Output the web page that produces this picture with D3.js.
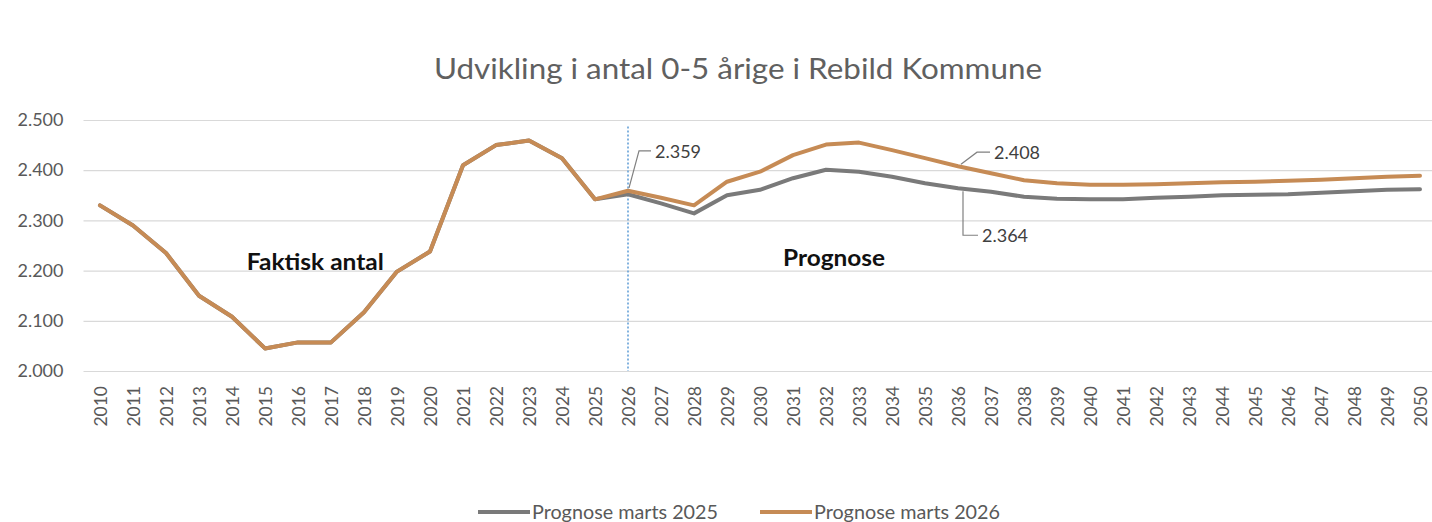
<!DOCTYPE html>
<html>
<head>
<meta charset="utf-8">
<script src="https://cdn.jsdelivr.net/npm/d3@7"></script>
<style>
  html, body { margin: 0; padding: 0; background: #fff; }
  svg { display: block; font-family: Lato, "Open Sans", sans-serif; }
</style>
</head>
<body>
<svg id="chart" width="1432" height="522"></svg>
<script>
// ---- data ----
const title = "Udvikling i antal 0-5 årige i Rebild Kommune";
const years = d3.range(2010, 2051);
const actualYears = d3.range(2010, 2026);
const forecastYears = d3.range(2026, 2051);
const actual = [2330, 2290, 2235, 2150, 2108, 2045, 2057, 2057, 2117, 2198, 2238, 2410, 2450, 2459, 2424, 2342];
const prog2025 = [2352, 2334, 2314, 2350, 2361, 2384, 2401, 2397, 2387, 2374, 2364, 2357, 2347, 2343, 2342, 2342, 2345, 2347, 2350, 2351, 2352, 2355, 2358, 2361, 2362];
const prog2026 = [2359, 2345, 2330, 2377, 2397, 2430, 2451, 2455, 2440, 2424, 2408, 2394, 2380, 2374, 2371, 2371, 2372, 2374, 2376, 2377, 2379, 2381, 2384, 2387, 2389];
const yTicks = [2000, 2100, 2200, 2300, 2400, 2500];
const seriesNames = ["Prognose marts 2025", "Prognose marts 2026"];
const splitYear = 2026;
const annotations = [
  { text: "Faktisk antal", year: 2014.45, value: 2201, width: 137 },
  { text: "Prognose", year: 2030.7, value: 2209, width: 102 }
];

// ---- setup ----
const colors = { grey: "#7a7a7a", orange: "#c68b55" };
const svg = d3.select("#chart");
const x = d3.scaleLinear().domain([2010, 2050]).range([100, 1420]);
const y = d3.scaleLinear().domain([2000, 2500]).range([371, 120]);
const plotLeft = 83.5, plotRight = 1436.5;
const dk = d3.formatLocale({ decimal: ",", thousands: ".", grouping: [3], currency: ["", " kr"] });
const fmt = dk.format(",d");

const seriesGrey = actualYears.map((yr, i) => ({ year: yr, value: actual[i] }))
  .concat(forecastYears.map((yr, i) => ({ year: yr, value: prog2025[i] })));
const seriesOrange = actualYears.map((yr, i) => ({ year: yr, value: actual[i] }))
  .concat(forecastYears.map((yr, i) => ({ year: yr, value: prog2026[i] })));

// title
svg.append("text")
  .attr("x", 738).attr("y", 79)
  .attr("text-anchor", "middle")
  .attr("font-size", 29)
  .attr("fill", "#606060")
  .attr("textLength", 608).attr("lengthAdjust", "spacingAndGlyphs")
  .text(title);

// gridlines
svg.append("g").selectAll("line").data(yTicks).join("line")
  .attr("x1", plotLeft).attr("x2", plotRight)
  .attr("y1", d => y(d) + 0.5).attr("y2", d => y(d) + 0.5)
  .attr("stroke", "#d9d9d9").attr("stroke-width", 1.2);

// y axis
const yAxis = svg.append("g").attr("transform", `translate(${plotLeft},0)`)
  .call(d3.axisLeft(y).tickValues(yTicks).tickFormat(fmt).tickSize(0).tickPadding(20));
yAxis.select(".domain").remove();
yAxis.selectAll("text").attr("font-size", 18).attr("fill", "#595959").attr("font-family", "Lato, sans-serif");

// x axis
const xAxis = svg.append("g").attr("transform", `translate(0,${y(2000)})`)
  .call(d3.axisBottom(x).tickValues(years).tickFormat(d3.format("d")).tickSize(0));
xAxis.select(".domain").remove();
xAxis.selectAll("text")
  .attr("transform", "rotate(-90)")
  .attr("text-anchor", "end")
  .attr("x", -15).attr("y", 0).attr("dy", "0.36em")
  .attr("font-size", 17.5).attr("fill", "#595959").attr("font-family", "Lato, sans-serif");

// divider line
svg.append("line")
  .attr("x1", x(splitYear)).attr("x2", x(splitYear))
  .attr("y1", y(2487)).attr("y2", y(2000))
  .attr("stroke", "#5b9bd5").attr("stroke-width", 1.5)
  .attr("stroke-dasharray", "2,2");

// lines
const line = d3.line().x(d => x(d.year)).y(d => y(d.value));
svg.append("path").datum(seriesGrey)
  .attr("d", line).attr("fill", "none")
  .attr("stroke", colors.grey).attr("stroke-width", 4)
  .attr("stroke-linejoin", "round").attr("stroke-linecap", "round");
svg.append("path").datum(seriesOrange)
  .attr("d", line).attr("fill", "none")
  .attr("stroke", colors.orange).attr("stroke-width", 4)
  .attr("stroke-linejoin", "round").attr("stroke-linecap", "round");

// data labels with leader lines
const dataLabels = [
  { year: 2026, value: prog2026[0], dx: 27, dy: -39, leader: [[23, -40], [11, -40], [1, -3]] },
  { year: 2036, value: prog2026[10], dx: 36, dy: -14, leader: [[32, -14], [19, -14], [3, -2]] },
  { year: 2036, value: prog2025[10], dx: 24, dy: 47, leader: [[20, 47], [5, 47], [5, 3]] }
];
dataLabels.forEach(d => {
  const px = x(d.year), py = y(d.value);
  svg.append("polyline")
    .attr("points", d.leader.map(p => [px + p[0], py + p[1]].join(",")).join(" "))
    .attr("fill", "none").attr("stroke", "#808080").attr("stroke-width", 1.2);
  svg.append("text")
    .attr("x", px + d.dx).attr("y", py + d.dy).attr("dy", "0.36em")
    .attr("font-size", 18).attr("fill", "#404040")
    .text(fmt(d.value));
});

// annotations
svg.append("g").selectAll("text").data(annotations).join("text")
  .attr("x", d => x(d.year)).attr("y", d => y(d.value))
  .attr("font-size", 22).attr("font-weight", "bold").attr("fill", "#111")
  .attr("textLength", d => d.width).attr("lengthAdjust", "spacingAndGlyphs")
  .text(d => d.text);

// legend
const legendItems = [
  { name: seriesNames[0], color: colors.grey, x: 478 },
  { name: seriesNames[1], color: colors.orange, x: 760 }
];
const lg = svg.append("g");
legendItems.forEach(it => {
  lg.append("line")
    .attr("x1", it.x).attr("x2", it.x + 52)
    .attr("y1", 512).attr("y2", 512)
    .attr("stroke", it.color).attr("stroke-width", 4);
  lg.append("text")
    .attr("x", it.x + 54).attr("y", 512).attr("dy", "0.36em")
    .attr("font-size", 19).attr("fill", "#595959")
    .attr("textLength", 186).attr("lengthAdjust", "spacingAndGlyphs")
    .text(it.name);
});
</script>
</body>
</html>
